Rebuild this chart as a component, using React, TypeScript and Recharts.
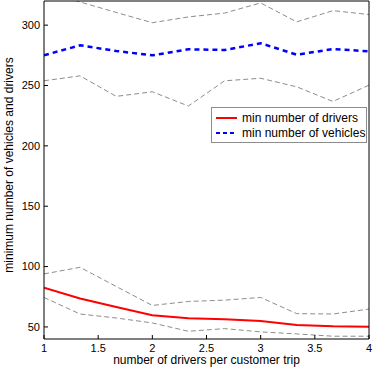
import { LineChart, Line, XAxis, YAxis, Legend, Label } from "recharts";

const tripDrivers = [1, 1.333, 1.667, 2, 2.333, 2.667, 3, 3.333, 3.667, 4];
const minDrivers = [82.4, 73.6, 66.5, 59.6, 57.1, 56.3, 54.9, 51.6, 50.5, 50.2];
const driversHigh = [93.9, 99.4, 83.5, 67.8, 71.1, 72.2, 74.4, 61, 60.7, 64.8];
const driversLow = [74.4, 60.7, 57.4, 53.3, 46.4, 48.6, 45.9, 44.2, 42.3, 42.3];
const minVehicles = [275, 283.3, 278.6, 275, 280, 279.4, 285, 275.5, 280.2, 278.3];
const vehiclesHigh = [328, 319.2, 310.5, 302, 306.8, 310, 318.4, 302.7, 312, 308.8];
const vehiclesLow = [253.9, 258, 241, 244.8, 233, 253.9, 256, 248.9, 236.8, 250.3];

const xTicks = [1, 1.5, 2, 2.5, 3, 3.5, 4];
const yTicks = [50, 100, 150, 200, 250, 300];

const data = tripDrivers.map((x, i) => ({
  x,
  drivers: minDrivers[i],
  driversHigh: driversHigh[i],
  driversLow: driversLow[i],
  vehicles: minVehicles[i],
  vehiclesHigh: vehiclesHigh[i],
  vehiclesLow: vehiclesLow[i],
}));

const font = "'Liberation Sans', Arial, sans-serif";
const tickStyle = { fill: "#000", fontSize: 11, fontFamily: font };
const labelStyle = { fill: "#000", fontSize: 12, fontFamily: font };

function LegendBox() {
  return (
    <div
      style={{
        width: 154,
        height: 34,
        border: "1px solid #8c8c8c",
        background: "#fff",
      }}
    >
      <svg width={154} height={34} style={{ display: "block" }}>
        <line x1={4} x2={25} y1={10} y2={10} stroke="#ff0000" strokeWidth={2} />
        <text x={30} y={14} fontSize={12} fontFamily={font} fill="#000">
          min number of drivers
        </text>
        <line
          x1={4}
          x2={25}
          y1={25}
          y2={25}
          stroke="#0000ff"
          strokeWidth={2}
          strokeDasharray="4 3"
        />
        <text x={30} y={29} fontSize={12} fontFamily={font} fill="#000">
          min number of vehicles
        </text>
      </svg>
    </div>
  );
}

export default function App() {
  return (
    <div style={{ position: "absolute", left: 0, top: 0, background: "#fff" }}>
      <LineChart
        width={374}
        height={374}
        data={data}
        margin={{ top: 0, right: 4, bottom: 0, left: 0 }}
      >
        <XAxis
          dataKey="x"
          type="number"
          domain={[1, 4]}
          ticks={xTicks}
          height={35}
          tickSize={-4}
          tickMargin={9}
          tick={tickStyle}
          stroke="#000"
          allowDataOverflow
        >
          <Label
            value="number of drivers per customer trip"
            position="insideBottom"
            offset={10}
            style={labelStyle}
          />
        </XAxis>
        <XAxis
          xAxisId="top"
          dataKey="x"
          type="number"
          orientation="top"
          domain={[1, 4]}
          ticks={xTicks}
          height={1}
          tickSize={-4}
          tick={false}
          stroke="#000"
        />
        <YAxis
          type="number"
          domain={[40, 320]}
          ticks={yTicks}
          width={44}
          tickSize={-4}
          tickMargin={8}
          tick={tickStyle}
          stroke="#000"
          allowDataOverflow
        >
          <Label
            value="minimum number of vehicles and drivers"
            position="center"
            angle={-90}
            dx={-13}
            dy={-5}
            style={labelStyle}
          />
        </YAxis>
        <YAxis
          yAxisId="right"
          type="number"
          orientation="right"
          domain={[40, 320]}
          ticks={yTicks}
          width={1}
          tickSize={-4}
          tick={false}
          stroke="#000"
        />
        <Legend
          layout="vertical"
          align="center"
          verticalAlign="middle"
          content={() => <LegendBox />}
          wrapperStyle={{ top: 107, left: 211, width: 156, height: 36 }}
        />
        {(["vehiclesHigh", "vehiclesLow", "driversHigh", "driversLow"] as const).map((k) => (
          <Line
            key={k}
            dataKey={k}
            stroke="#7f7f7f"
            strokeWidth={0.9}
            strokeDasharray="5 3"
            dot={false}
            legendType="none"
            isAnimationActive={false}
          />
        ))}
        <Line
          dataKey="drivers"
          stroke="#ff0000"
          strokeWidth={2}
          dot={false}
          isAnimationActive={false}
        />
        <Line
          dataKey="vehicles"
          stroke="#0000ff"
          strokeWidth={2.5}
          strokeDasharray="5 4"
          dot={false}
          isAnimationActive={false}
        />
      </LineChart>
    </div>
  );
}
